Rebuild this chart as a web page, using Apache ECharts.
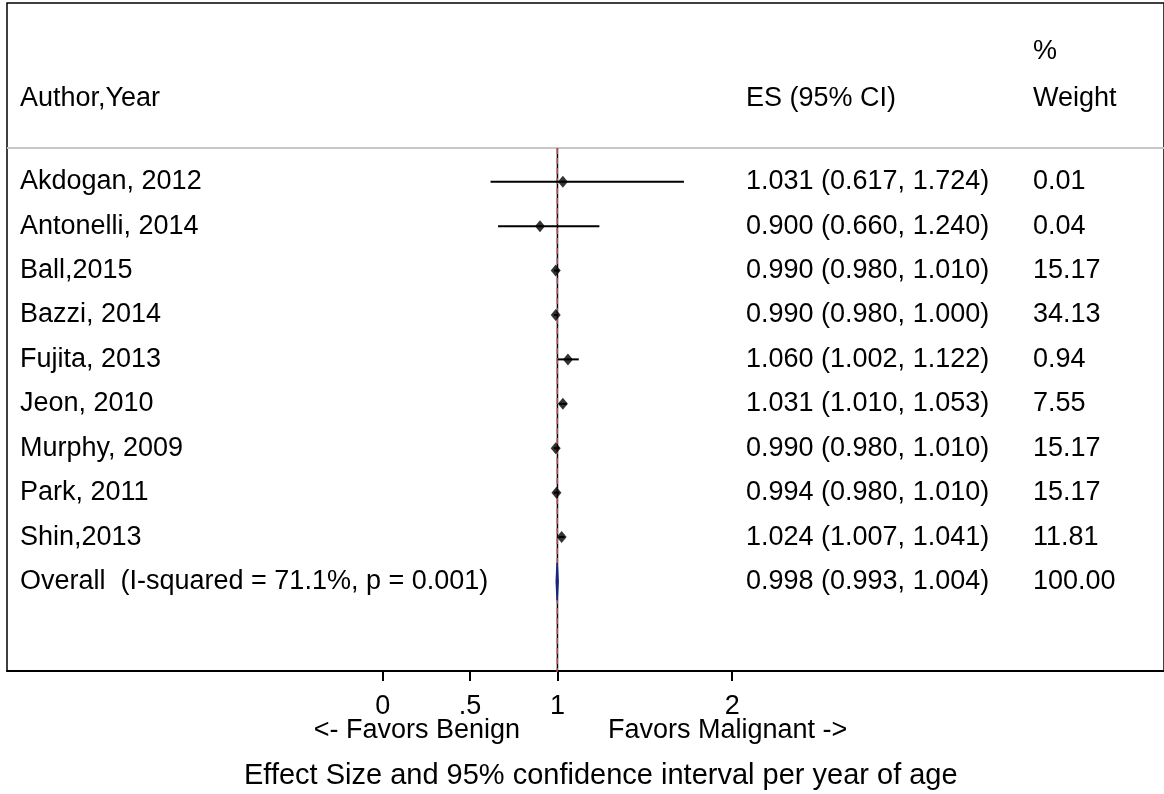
<!DOCTYPE html>
<html>
<head>
<meta charset="utf-8">
<script src="https://cdn.jsdelivr.net/npm/echarts@6/dist/echarts.min.js"></script>
<style>
  html, body { margin: 0; padding: 0; background: #fff; }
  #chart { width: 1164px; height: 794px; }
</style>
</head>
<body>
<div id="chart"></div>
<script>
// ---- data ----
const studies = ['Akdogan, 2012', 'Antonelli, 2014', 'Ball,2015', 'Bazzi, 2014', 'Fujita, 2013',
                 'Jeon, 2010', 'Murphy, 2009', 'Park, 2011', 'Shin,2013'];
const es    = [1.031, 0.900, 0.990, 0.990, 1.060, 1.031, 0.990, 0.994, 1.024];
const ciLow = [0.617, 0.660, 0.980, 0.980, 1.002, 1.010, 0.980, 0.980, 1.007];
const ciHigh= [1.724, 1.240, 1.010, 1.000, 1.122, 1.053, 1.010, 1.010, 1.041];
const weights = ['0.01', '0.04', '15.17', '34.13', '0.94', '7.55', '15.17', '15.17', '11.81'];
const overallLabel = 'Overall  (I-squared = 71.1%, p = 0.001)';
const overallES = 0.998, overallLow = 0.993, overallHigh = 1.004;
const overallWeight = '100.00';
const nullValue = 1;
const tickValues = [0, 0.5, 1, 2];
const tickLabels = ['0', '.5', '1', '2'];

// ---- layout ----
const FONT = '"Liberation Sans", Arial, Helvetica, sans-serif';
const FS = 27;
const LABEL_X = 20, ES_X = 746, W_X = 1033;
const Y_MIN = -4.023, Y_MAX = 11.015;
const SEP_Y = -0.759;
const X_MIN = -2.151, X_MAX = 4.472;

const fmt = v => v.toFixed(3);
const esText = i => fmt(es[i]) + ' (' + fmt(ciLow[i]) + ', ' + fmt(ciHigh[i]) + ')';
const overallText = fmt(overallES) + ' (' + fmt(overallLow) + ', ' + fmt(overallHigh) + ')';

const rowData = studies.map((s, i) => [ciLow[i], ciHigh[i], i]);
const txt = (x, y, text) => ({
  type: 'text', x: x, y: y,
  style: { text: text, fill: '#000', font: FS + 'px ' + FONT, textVerticalAlign: 'middle', textAlign: 'left' }
});

const chart = echarts.init(document.getElementById('chart'), null, { renderer: 'canvas' });
chart.setOption({
  animation: false,
  backgroundColor: '#fff',
  grid: { left: 7, right: -2, top: 3, bottom: 123, show: true, borderColor: '#000', borderWidth: 1.5, containLabel: false },
  xAxis: {
    type: 'value', min: X_MIN, max: X_MAX,
    splitLine: { show: false },
    axisLine: { show: true, onZero: false, lineStyle: { color: '#000', width: 2 } },
    axisTick: { show: true, length: 10, lineStyle: { color: '#000', width: 2 }, customValues: tickValues },
    axisLabel: {
      show: true, customValues: tickValues, margin: 22,
      formatter: v => tickLabels[tickValues.indexOf(v)] ?? '',
      color: '#000', fontSize: FS, fontFamily: FONT
    }
  },
  yAxis: { type: 'value', inverse: true, min: Y_MIN, max: Y_MAX, show: false, splitLine: { show: false } },
  graphic: [
    { type: 'text', left: LABEL_X, top: 85, style: { text: 'Author,Year', fill: '#000', font: FS + 'px ' + FONT } },
    { type: 'text', left: ES_X, top: 85, style: { text: 'ES (95% CI)', fill: '#000', font: FS + 'px ' + FONT } },
    { type: 'text', left: W_X, top: 38, style: { text: '%', fill: '#000', font: FS + 'px ' + FONT } },
    { type: 'text', left: W_X, top: 85, style: { text: 'Weight', fill: '#000', font: FS + 'px ' + FONT } },
    { type: 'text', right: 1164 - 520, top: 717, style: { text: '<- Favors Benign', fill: '#000', font: FS + 'px ' + FONT } },
    { type: 'text', left: 608, top: 717, style: { text: 'Favors Malignant ->', fill: '#000', font: FS + 'px ' + FONT } },
    { type: 'text', left: 244, top: 761, style: { text: 'Effect Size and 95% confidence interval per year of age', fill: '#000', font: '29px ' + FONT } }
  ],
  series: [
    { // header separator
      type: 'line', data: [[X_MIN, SEP_Y], [X_MAX, SEP_Y]], symbol: 'none', silent: true,
      lineStyle: { color: '#c8c8c8', width: 2 }, z: 1
    },
    { // null line
      type: 'line', data: [[nullValue, SEP_Y], [nullValue, Y_MAX]], symbol: 'none', silent: true,
      lineStyle: { color: '#000', width: 1.5 }, z: 2
    },
    { // overall effect dashed line
      type: 'line', data: [[overallES, SEP_Y], [overallES, Y_MAX + 0.15]], symbol: 'none', silent: true,
      lineStyle: { color: '#c0606c', width: 1.5, type: [6, 4] }, z: 3
    },
    { // CI lines + text columns
      type: 'custom', data: rowData, z: 4,
      renderItem: (params, api) => {
        const i = api.value(2);
        const a = api.coord([api.value(0), i]);
        const b = api.coord([api.value(1), i]);
        return {
          type: 'group', children: [
            { type: 'line', shape: { x1: a[0], y1: a[1], x2: b[0], y2: b[1] }, style: { stroke: '#000', lineWidth: 2 } },
            txt(LABEL_X, a[1], studies[i]),
            txt(ES_X, a[1], esText(i)),
            txt(W_X, a[1], weights[i])
          ]
        };
      }
    },
    { // point estimates
      type: 'scatter', data: es.map((v, i) => [v, i]), symbol: 'diamond', symbolSize: [10, 12],
      itemStyle: { color: '#000' }, z: 5
    },
    { // overall diamond + texts
      type: 'custom', data: [[overallLow, overallES, overallHigh, studies.length]], z: 6,
      renderItem: (params, api) => {
        const y = api.value(3);
        const l = api.coord([api.value(0), y]);
        const c = api.coord([api.value(1), y]);
        const r = api.coord([api.value(2), y]);
        const top = api.coord([api.value(1), y - 0.42]);
        const bot = api.coord([api.value(1), y + 0.42]);
        return {
          type: 'group', children: [
            { type: 'polygon', shape: { points: [[l[0], l[1]], [c[0], top[1]], [r[0], r[1]], [c[0], bot[1]]] },
              style: { fill: '#1a2580', stroke: '#1a2580', lineWidth: 1.5 } },
            txt(LABEL_X, c[1], overallLabel),
            txt(ES_X, c[1], overallText),
            txt(W_X, c[1], overallWeight)
          ]
        };
      }
    }
  ]
});
</script>
</body>
</html>
